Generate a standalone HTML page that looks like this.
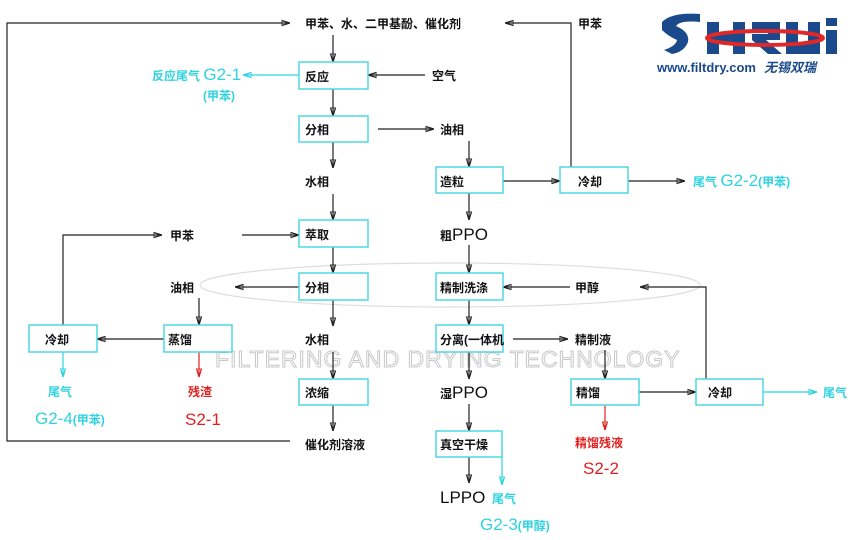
<!DOCTYPE html>
<html><head><meta charset="utf-8"><style>
html,body{margin:0;padding:0;background:#fff;}
svg{display:block;}
.t{font-family:"Liberation Sans","Noto Sans CJK SC",sans-serif;font-size:12px;font-weight:bold;fill:#111;}
.c{fill:#2fd3e0;}
.r{fill:#e02020;}
.n{font-family:"Liberation Sans","Noto Sans CJK SC",sans-serif;font-size:17px;font-weight:normal;}
</style></head><body>
<svg width="850" height="540" viewBox="0 0 850 540" xmlns="http://www.w3.org/2000/svg">
<defs>
<marker id="a" viewBox="0 0 10 10" refX="10" refY="5" markerWidth="7" markerHeight="7" orient="auto"><path d="M0,2 L10,5 L0,8 z" fill="none" stroke="#222" stroke-width="1.5"/></marker>
<marker id="ac" viewBox="0 0 10 10" refX="10" refY="5" markerWidth="7" markerHeight="7" orient="auto"><path d="M0,2 L10,5 L0,8 z" fill="none" stroke="#2fd3e0" stroke-width="1.5"/></marker>
<marker id="ar" viewBox="0 0 10 10" refX="10" refY="5" markerWidth="7" markerHeight="7" orient="auto"><path d="M0,2 L10,5 L0,8 z" fill="none" stroke="#e02020" stroke-width="1.5"/></marker>
</defs>
<!-- watermark -->
<text x="215" y="367" font-family="Liberation Sans,sans-serif" font-size="23" fill="#fff" stroke="#c8c8c8" stroke-width="1" letter-spacing="1">FILTERING AND DRYING TECHNOLOGY</text>
<ellipse cx="450" cy="285" rx="250" ry="22" fill="none" stroke="#ddd" stroke-width="1.2"/>

<g fill="none" stroke="#222" stroke-width="1.2">
<polyline points="290,441 7,441 7,23 290,23" marker-end="url(#a)"/>
<line x1="333" y1="35" x2="333" y2="62" marker-end="url(#a)"/>
<line x1="333" y1="89" x2="333" y2="116" marker-end="url(#a)"/>
<line x1="333" y1="142" x2="333" y2="168" marker-end="url(#a)"/>
<line x1="333" y1="194" x2="333" y2="220" marker-end="url(#a)"/>
<line x1="333" y1="247" x2="333" y2="273" marker-end="url(#a)"/>
<line x1="333" y1="300" x2="333" y2="326" marker-end="url(#a)"/>
<line x1="333" y1="352" x2="333" y2="379" marker-end="url(#a)"/>
<line x1="333" y1="405" x2="333" y2="431" marker-end="url(#a)"/>
<line x1="425" y1="75" x2="368" y2="75" marker-end="url(#a)"/>
<line x1="378" y1="129" x2="434" y2="129" marker-end="url(#a)"/>
<polyline points="63,325 63,235 162,235" marker-end="url(#a)"/>
<line x1="242" y1="235" x2="299" y2="235" marker-end="url(#a)"/>
<line x1="299" y1="287" x2="235" y2="287" marker-end="url(#a)"/>
<line x1="199" y1="298" x2="199" y2="325" marker-end="url(#a)"/>
<line x1="164" y1="339" x2="97" y2="339" marker-end="url(#a)"/>
<line x1="469" y1="141" x2="469" y2="167" marker-end="url(#a)"/>
<line x1="469" y1="193" x2="469" y2="220" marker-end="url(#a)"/>
<line x1="469" y1="245" x2="469" y2="273" marker-end="url(#a)"/>
<line x1="469" y1="300" x2="469" y2="325" marker-end="url(#a)"/>
<line x1="469" y1="352" x2="469" y2="379" marker-end="url(#a)"/>
<line x1="469" y1="404" x2="469" y2="431" marker-end="url(#a)"/>
<line x1="469" y1="457" x2="469" y2="483" marker-end="url(#a)"/>
<line x1="503" y1="181" x2="560" y2="181" marker-end="url(#a)"/>
<line x1="628" y1="181" x2="685" y2="181" marker-end="url(#a)"/>
<polyline points="571,167 571,23 505,23" marker-end="url(#a)"/>
<line x1="570" y1="287" x2="503" y2="287" marker-end="url(#a)"/>
<polyline points="706,379 706,287 640,287" marker-end="url(#a)"/>
<line x1="513" y1="339" x2="568" y2="339" marker-end="url(#a)"/>
<line x1="605" y1="350" x2="605" y2="379" marker-end="url(#a)"/>
<line x1="639" y1="392" x2="696" y2="392" marker-end="url(#a)"/>
</g>
<g fill="none" stroke="#2fd3e0" stroke-width="1.2">
<line x1="299" y1="75" x2="243" y2="75" marker-end="url(#ac)"/>
<line x1="63" y1="352" x2="63" y2="377" marker-end="url(#ac)"/>
<line x1="763" y1="392" x2="817" y2="392" marker-end="url(#ac)"/>
<polyline points="502,444 502,485" marker-end="url(#ac)"/>
</g>
<g fill="none" stroke="#e02020" stroke-width="1.2">
<line x1="199" y1="352" x2="199" y2="377" marker-end="url(#ar)"/>
<line x1="605" y1="405" x2="605" y2="430" marker-end="url(#ar)"/>
</g>
<g fill="#fff" stroke="#4fd8e0" stroke-width="1.5">
<rect x="299" y="62" width="69" height="27"/>
<rect x="299" y="116" width="69" height="26"/>
<rect x="299" y="220" width="69" height="27"/>
<rect x="299" y="273" width="69" height="27"/>
<rect x="299" y="379" width="69" height="26"/>
<rect x="29" y="325" width="68" height="27"/>
<rect x="164" y="325" width="68" height="27"/>
<rect x="436" y="167" width="67" height="26"/>
<rect x="560" y="167" width="68" height="26"/>
<rect x="436" y="273" width="67" height="27"/>
<rect x="436" y="325" width="67" height="27"/>
<rect x="436" y="431" width="66" height="26"/>
<rect x="571" y="379" width="68" height="26"/>
<rect x="696" y="379" width="67" height="26"/>
</g>
<g class="t">
<text x="305" y="28">甲苯、水、二甲基酚、催化剂</text>
<text x="305" y="81">反应</text>
<text x="305" y="134">分相</text>
<text x="305" y="186">水相</text>
<text x="305" y="239">萃取</text>
<text x="305" y="292">分相</text>
<text x="305" y="344">水相</text>
<text x="305" y="397">浓缩</text>
<text x="305" y="449">催化剂溶液</text>
<text x="432" y="80">空气</text>
<text x="440" y="134">油相</text>
<text x="440" y="186">造粒</text>
<text x="578" y="186">冷却</text>
<text x="578" y="28">甲苯</text>
<text x="440" y="292">精制洗涤</text>
<text x="575" y="292">甲醇</text>
<text x="440" y="344">分离(一体机</text>
<text x="575" y="344">精制液</text>
<text x="576" y="397">精馏</text>
<text x="708" y="397">冷却</text>
<text x="440" y="449">真空干燥</text>
<text x="170" y="240">甲苯</text>
<text x="170" y="292">油相</text>
<text x="45" y="344">冷却</text>
<text x="168" y="344">蒸馏</text>
<text x="440" y="240">粗<tspan style="font-size:17px;font-weight:normal">PPO</tspan></text>
<text x="440" y="398">湿<tspan style="font-size:17px;font-weight:normal">PPO</tspan></text>
<text x="440" y="503" style="font-size:17px;font-weight:normal">LPPO</text>
</g>
<g class="t c">
<text x="152" y="80">反应尾气 <tspan style="font-size:17px;font-weight:normal">G2-1</tspan></text>
<text x="203" y="100">(甲苯)</text>
<text x="693" y="186">尾气 <tspan style="font-size:17px;font-weight:normal">G2-2</tspan>(甲苯)</text>
<text x="48" y="396">尾气</text>
<text x="35" y="424"><tspan style="font-size:17px;font-weight:normal">G2-4</tspan>(甲苯)</text>
<text x="823" y="397">尾气</text>
<text x="492" y="503">尾气</text>
<text x="480" y="530"><tspan style="font-size:17px;font-weight:normal">G2-3</tspan>(甲醇)</text>
</g>
<g class="t r">
<text x="188" y="396">残渣</text>
<text x="185" y="425" style="font-size:17px;font-weight:normal">S2-1</text>
<text x="575" y="447">精馏残液</text>
<text x="583" y="474" style="font-size:17px;font-weight:normal">S2-2</text>
</g>
<g>
<path d="M662,22 Q672,12 700,14 L700,22 Q680,20 676,26 Q690,32 688,42 Q684,52 672,54 L664,50 Q676,46 677,40 Q668,36 662,30 Z" fill="#1b4a8c"/>
<rect x="707" y="22" width="12" height="32" fill="#1b4a8c"/>
<rect x="733" y="22" width="12" height="32" fill="#1b4a8c"/>
<rect x="707" y="33" width="38" height="9" fill="#1b4a8c"/>
<path d="M752,22 H780 V40 H766 L782,54 H768 L752,40 V34 H768 V30 H752 Z" fill="#1b4a8c"/>
<path d="M786,22 H798 V44 H808 V22 H820 V54 H786 Z" fill="#1b4a8c"/>
<rect x="826" y="18" width="11" height="8" fill="#1b4a8c"/>
<rect x="826" y="30" width="11" height="24" fill="#1b4a8c"/>
<ellipse cx="765" cy="38" rx="58" ry="7" fill="none" stroke="#e02828" stroke-width="4"/>
<text x="657" y="72" font-family="Liberation Sans,sans-serif" font-size="13" font-weight="bold" fill="#1b4a8c">www.filtdry.com</text>
<text x="764" y="72" font-family="Liberation Sans,'Noto Sans CJK SC',sans-serif" font-size="13" font-weight="bold" font-style="italic" fill="#1b4a8c">无锡双瑞</text>
</g>
</svg>
</body></html>
